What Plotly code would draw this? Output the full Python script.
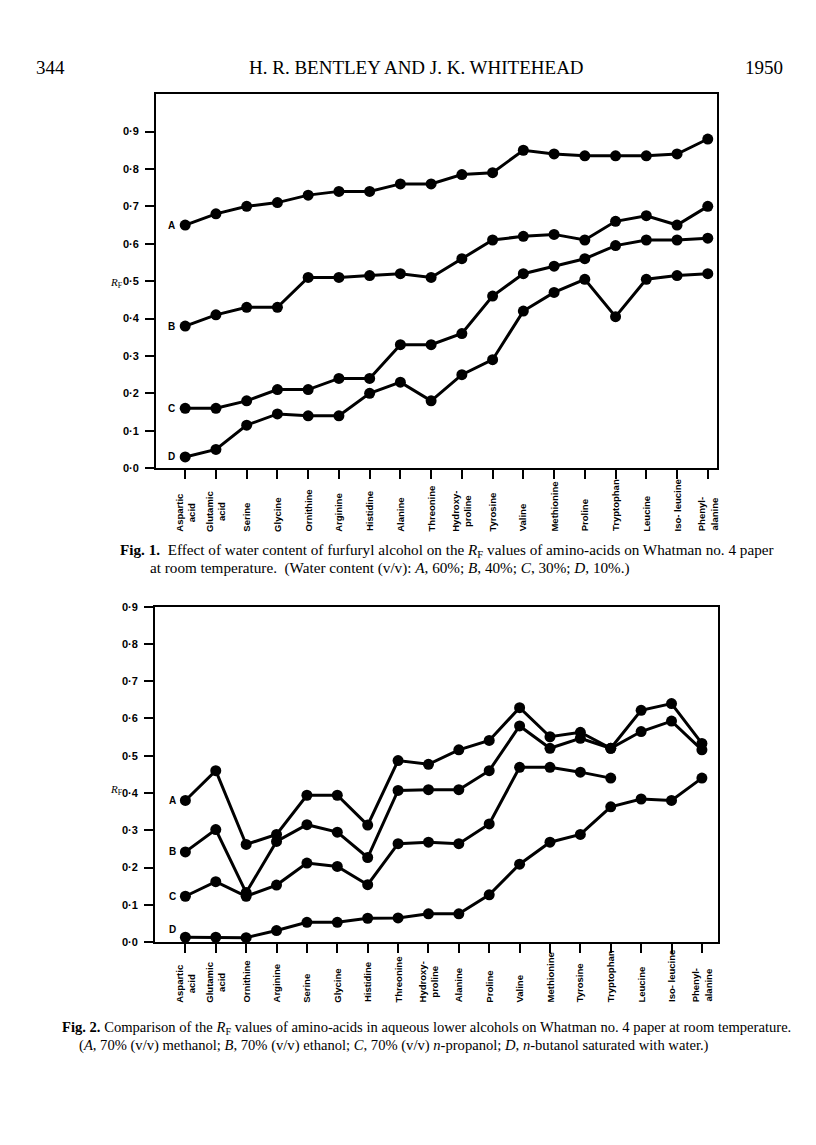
import plotly.graph_objects as go

# Fig. 1 - furfuryl alcohol, varying water content
acids1 = ["Aspartic acid", "Glutamic acid", "Serine", "Glycine", "Ornithine", "Arginine",
          "Histidine", "Alanine", "Threonine", "Hydroxyproline", "Tyrosine", "Valine",
          "Methionine", "Proline", "Tryptophan", "Leucine", "Iso-leucine", "Phenylalanine"]
labels1 = ["Aspartic<br>acid", "Glutamic<br>acid", "Serine", "Glycine", "Ornithine", "Arginine",
           "Histidine", "Alanine", "Threonine", "Hydroxy-<br>proline", "Tyrosine", "Valine",
           "Methionine", "Proline", "Tryptophan", "Leucine", "Iso- leucine", "Phenyl-<br>alanine"]
a1 = [0.65, 0.68, 0.70, 0.71, 0.73, 0.74, 0.74, 0.76, 0.76, 0.785, 0.79, 0.85, 0.84, 0.835, 0.835, 0.835, 0.84, 0.88]
b1 = [0.38, 0.41, 0.43, 0.43, 0.51, 0.51, 0.515, 0.52, 0.51, 0.56, 0.61, 0.62, 0.625, 0.61, 0.66, 0.675, 0.65, 0.70]
c1 = [0.16, 0.16, 0.18, 0.21, 0.21, 0.24, 0.24, 0.33, 0.33, 0.36, 0.46, 0.52, 0.54, 0.56, 0.595, 0.61, 0.61, 0.615]
d1 = [0.03, 0.05, 0.115, 0.145, 0.14, 0.14, 0.20, 0.23, 0.18, 0.25, 0.29, 0.42, 0.47, 0.505, 0.405, 0.505, 0.515, 0.52]

# Fig. 2 - aqueous lower alcohols
acids2 = ["Aspartic acid", "Glutamic acid", "Ornithine", "Arginine", "Serine", "Glycine",
          "Histidine", "Threonine", "Hydroxyproline", "Alanine", "Proline", "Valine",
          "Methionine", "Tyrosine", "Tryptophan", "Leucine", "Iso-leucine", "Phenylalanine"]
labels2 = ["Aspartic<br>acid", "Glutamic<br>acid", "Ornithine", "Arginine", "Serine", "Glycine",
           "Histidine", "Threonine", "Hydroxy-<br>proline", "Alanine", "Proline", "Valine",
           "Methionine", "Tyrosine", "Tryptophan", "Leucine", "Iso- leucine", "Phenyl-<br>alanine"]
a2 = [0.38, 0.46, 0.262, 0.289, 0.394, 0.394, 0.314, 0.487, 0.477, 0.516, 0.541, 0.629, 0.551, 0.563, 0.52, 0.622, 0.64, 0.533]
b2 = [0.242, 0.302, 0.133, 0.27, 0.315, 0.295, 0.227, 0.407, 0.409, 0.409, 0.46, 0.58, 0.52, 0.547, 0.52, 0.565, 0.593, 0.516]
c2 = [0.123, 0.162, 0.123, 0.153, 0.212, 0.203, 0.154, 0.264, 0.268, 0.264, 0.317, 0.469, 0.469, 0.456, 0.44, None, None, None]
d2 = [0.013, 0.013, 0.012, 0.031, 0.053, 0.053, 0.064, 0.065, 0.076, 0.076, 0.127, 0.209, 0.268, 0.289, 0.363, 0.384, 0.38, 0.44]

series1 = {"A": a1, "B": b1, "C": c1, "D": d1}
series2 = {"A": a2, "B": b2, "C": c2, "D": d2}

yTicks = [0, 0.1, 0.2, 0.3, 0.4, 0.5, 0.6, 0.7, 0.8, 0.9]
yTickText = ["0·0", "0·1", "0·2", "0·3", "0·4", "0·5", "0·6", "0·7", "0·8", "0·9"]

# page body has an 8px margin, so the figure is a little smaller than the window
OFF = 8
W = 816 - OFF
H = 1145 - OFF
serif = "Liberation Serif"
sans = "Liberation Sans"


def px(x):
  return (x - OFF) / W


def py(y):
  return 1 - (y - OFF) / H


fig = go.Figure()
for name, vals in series1.items():
  fig.add_trace(go.Scatter(x=acids1, y=vals, mode="lines+markers", name=name,
                           line=dict(color="black", width=3), marker=dict(color="black", size=11),
                           xaxis="x", yaxis="y", showlegend=False))
for name, vals in series2.items():
  fig.add_trace(go.Scatter(x=acids2, y=vals, mode="lines+markers", name=name,
                           line=dict(color="black", width=3), marker=dict(color="black", size=11),
                           xaxis="x2", yaxis="y2", showlegend=False))

axisStyle = dict(showline=True, mirror=True, linecolor="black", linewidth=2, showgrid=False,
                 zeroline=False, ticks="outside", ticklen=9, tickwidth=2, tickcolor="black")
tickFont = dict(family=sans, size=11, color="black")

fig.update_layout(
  width=W, height=H,
  margin=dict(l=0, r=0, t=0, b=0),
  plot_bgcolor="white", paper_bgcolor="white",
  xaxis=dict(domain=[px(156), px(717)], anchor="y", type="category", categoryarray=acids1,
             range=[-0.95, 17.3], showticklabels=False, **axisStyle),
  yaxis=dict(domain=[py(467), py(89)], anchor="x", range=[0, 1.0], tickvals=yTicks,
             ticktext=["<b>" + t + "</b>" for t in yTickText], tickfont=tickFont, ticklabelstandoff=4, **axisStyle),
  xaxis2=dict(domain=[px(155), px(718)], anchor="y2", type="category", categoryarray=acids2,
              range=[-1.0, 17.53], showticklabels=False, **axisStyle),
  yaxis2=dict(domain=[py(946), py(607)], anchor="x2", range=[0, 0.9], tickvals=yTicks,
              ticktext=["<b>" + t + "</b>" for t in yTickText], tickfont=tickFont, ticklabelstandoff=4, **axisStyle),
)

ann = []
# category labels, rotated and lined up along their bottom
for acid, lab in zip(acids1, labels1):
  ann.append(dict(x=acid, y=py(533), xref="x", yref="paper", text="<b>" + lab + "</b>", textangle=-90,
                  xanchor="center", yanchor="bottom", showarrow=False,
                  font=dict(family=sans, size=9.5, color="black")))
for acid, lab in zip(acids2, labels2):
  ann.append(dict(x=acid, y=py(1009), xref="x2", yref="paper", text="<b>" + lab + "</b>", textangle=-90,
                  xanchor="center", yanchor="bottom", showarrow=False,
                  font=dict(family=sans, size=9.5, color="black")))

# curve letters
for name, vals in series1.items():
  ann.append(dict(x=acids1[0], y=vals[0], xref="x", yref="y", text="<b>" + name + "</b>", xanchor="center",
                  yanchor="middle", xshift=-14, showarrow=False, font=dict(family=sans, size=10, color="black")))
for name, vals in series2.items():
  ann.append(dict(x=acids2[0], y=vals[0] + (0.02 if name == "D" else 0), xref="x2", yref="y2",
                  text="<b>" + name + "</b>", xanchor="center", yanchor="middle", xshift=-13, showarrow=False,
                  font=dict(family=sans, size=10, color="black")))

# R_F axis labels
ann.append(dict(x=px(108), y=py(280), xref="paper", yref="paper", text="<i>R</i><sub>F</sub>",
                yanchor="middle", showarrow=False, font=dict(family=serif, size=11, color="black")))
ann.append(dict(x=px(108), y=py(792), xref="paper", yref="paper", text="<i>R</i><sub>F</sub>",
                yanchor="middle", showarrow=False, font=dict(family=serif, size=11, color="black")))

# running head
headFont = dict(family=serif, size=19, color="black")
ann.append(dict(x=px(34), y=py(62), xref="paper", yref="paper", text="344", xanchor="left", yanchor="middle",
                showarrow=False, font=headFont))
ann.append(dict(x=px(416), y=py(62), xref="paper", yref="paper", text="H. R. BENTLEY AND J. K. WHITEHEAD",
                yanchor="middle", showarrow=False, font=headFont))
ann.append(dict(x=px(785), y=py(62), xref="paper", yref="paper", text="1950", xanchor="right", yanchor="middle",
                showarrow=False, font=headFont))

# captions
cap1 = dict(family=serif, size=15.2, color="black")
cap2 = dict(family=serif, size=14.6, color="black")
ann.append(dict(x=px(118), y=py(550), xref="paper", yref="paper", xanchor="left", yanchor="middle",
                showarrow=False, font=cap1,
                text="<b>Fig. 1.</b>  Effect of water content of furfuryl alcohol on the <i>R</i><sub>F</sub> values of amino-acids on Whatman no. 4 paper"))
ann.append(dict(x=px(148), y=py(568), xref="paper", yref="paper", xanchor="left", yanchor="middle",
                showarrow=False, font=cap1,
                text="at room temperature.  (Water content (v/v): <i>A</i>, 60%; <i>B</i>, 40%; <i>C</i>, 30%; <i>D</i>, 10%.)"))
ann.append(dict(x=px(60), y=py(1033), xref="paper", yref="paper", xanchor="left", yanchor="middle",
                showarrow=False, font=cap2,
                text="<b>Fig. 2.</b> Comparison of the <i>R</i><sub>F</sub> values of amino-acids in aqueous lower alcohols on Whatman no. 4 paper at room temperature."))
ann.append(dict(x=px(77), y=py(1051), xref="paper", yref="paper", xanchor="left", yanchor="middle",
                showarrow=False, font=cap2,
                text="(<i>A</i>, 70% (v/v) methanol; <i>B</i>, 70% (v/v) ethanol; <i>C</i>, 70% (v/v) <i>n</i>-propanol; <i>D</i>, <i>n</i>-butanol saturated with water.)"))

fig.update_layout(annotations=ann)
fig.write_html("out.html")
